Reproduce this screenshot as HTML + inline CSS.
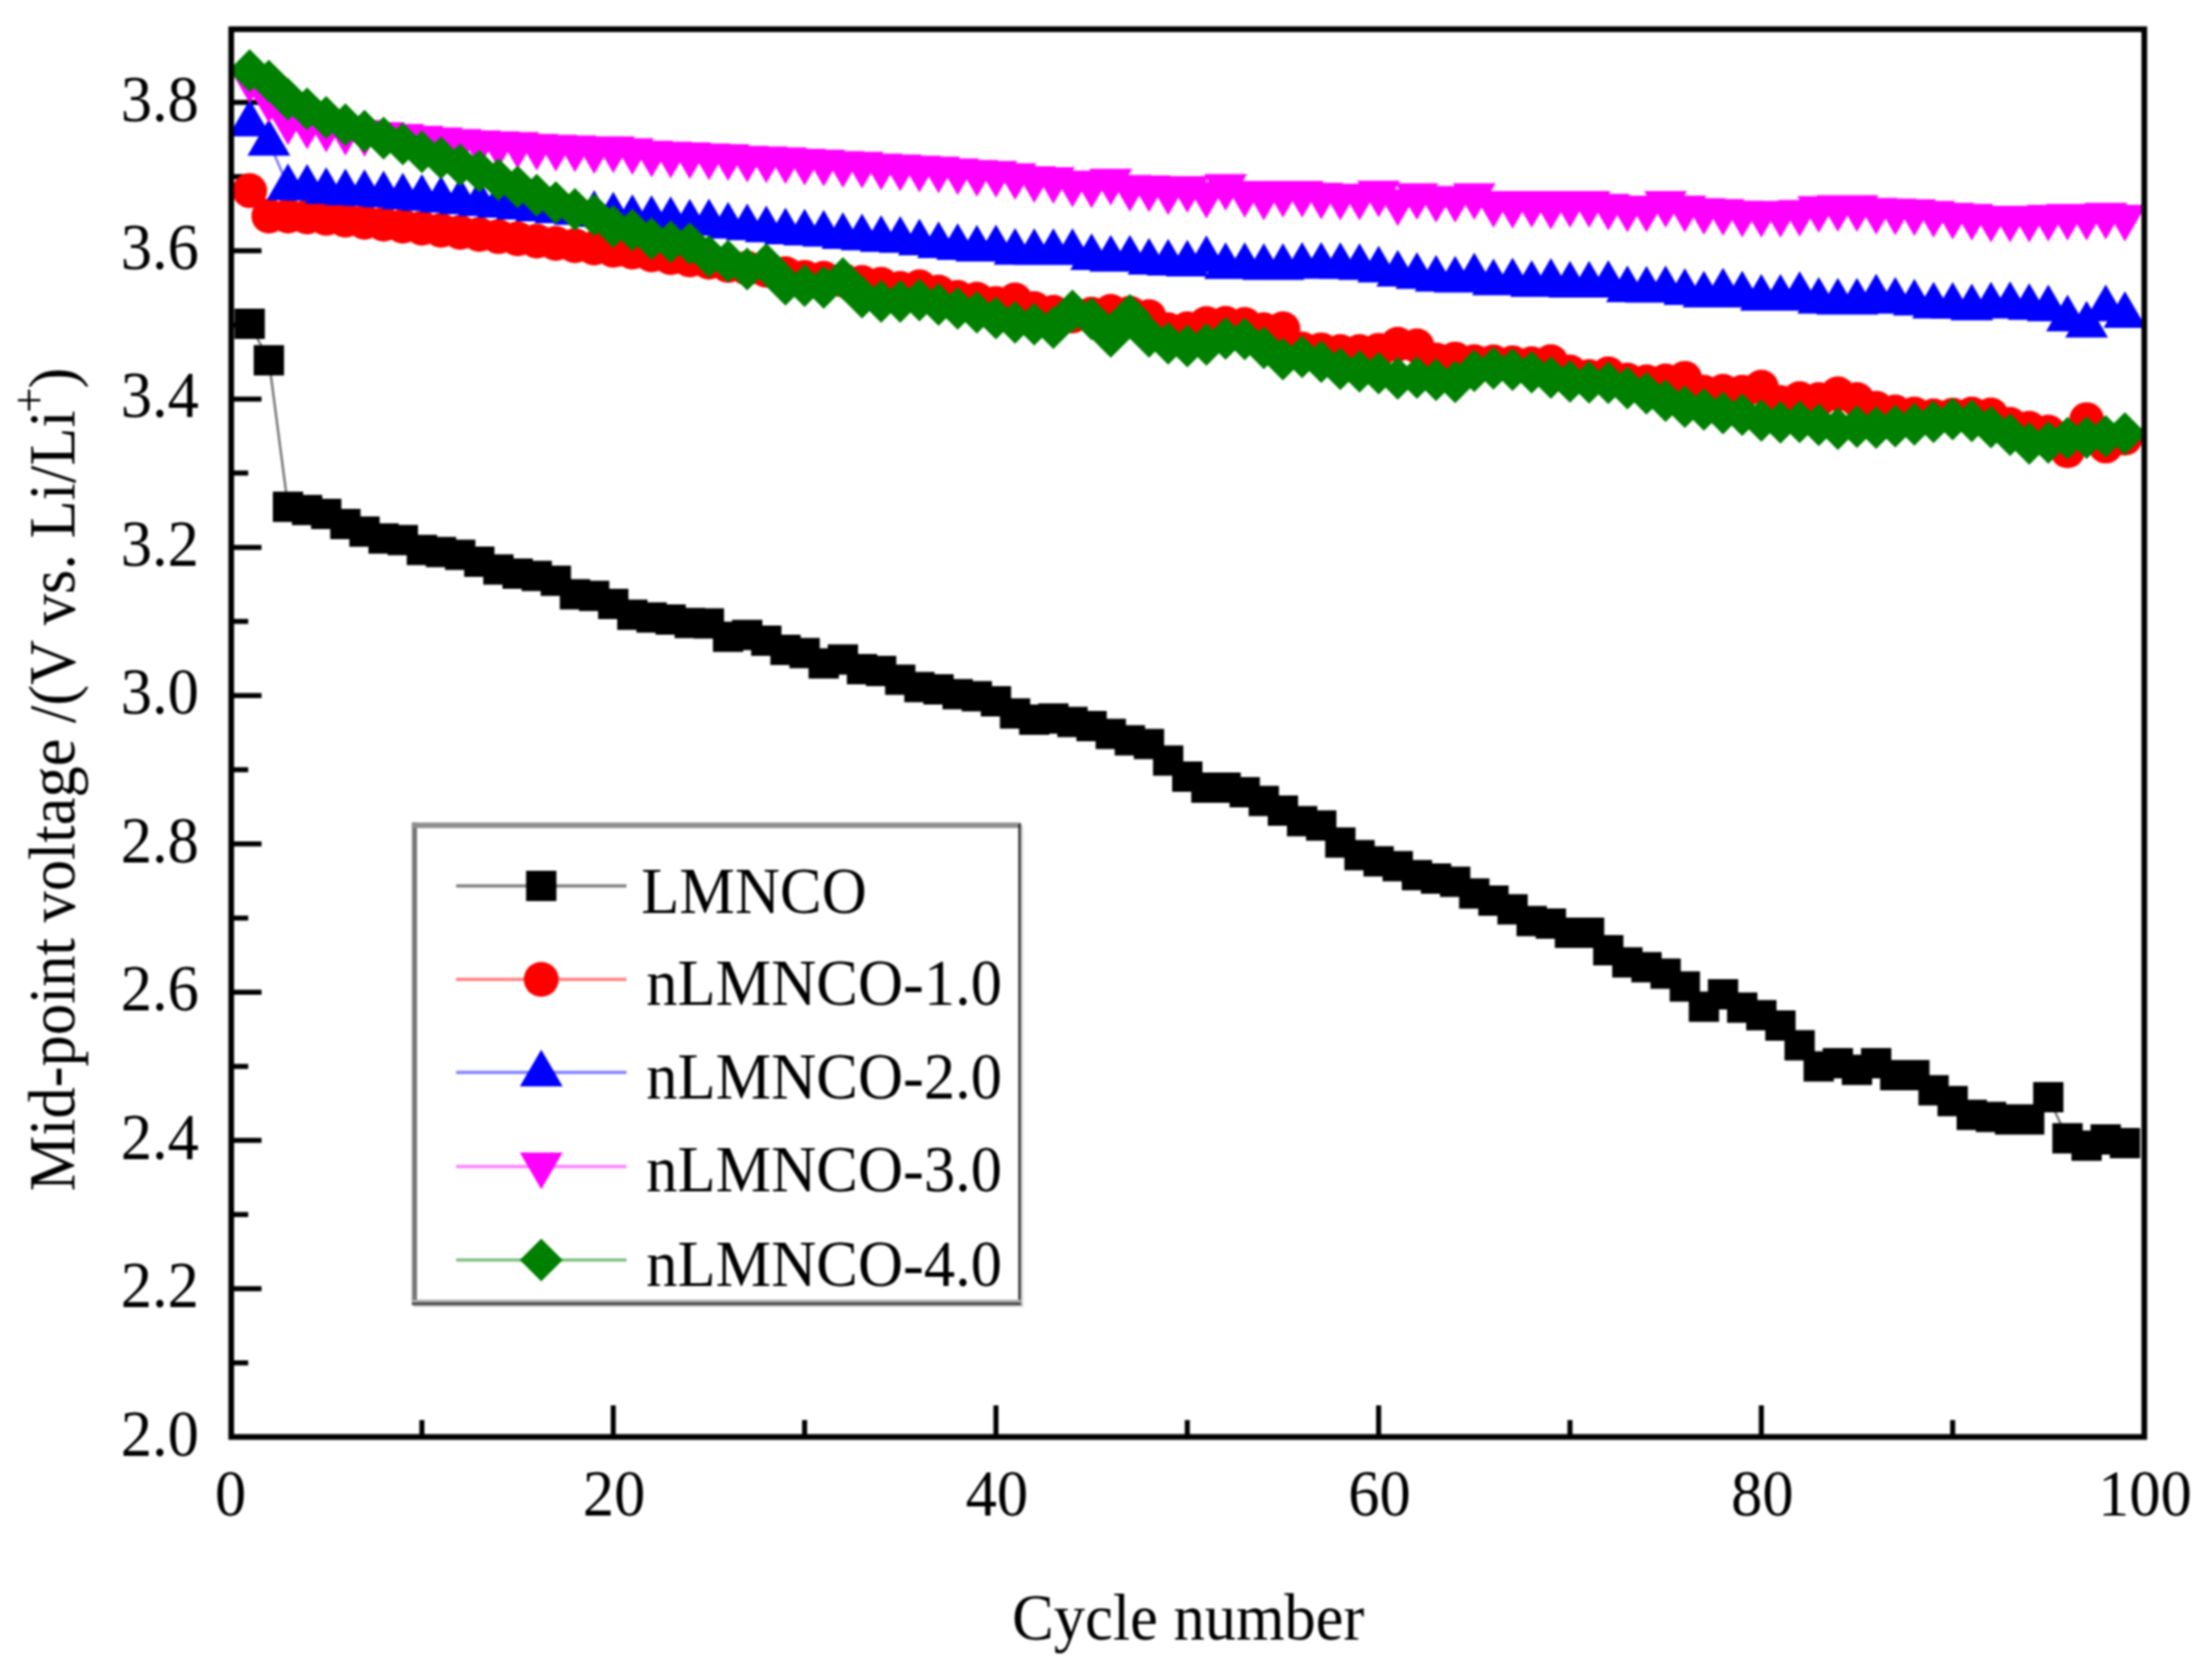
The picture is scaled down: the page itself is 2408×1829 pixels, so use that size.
<!DOCTYPE html>
<html><head><meta charset="utf-8"><title>Mid-point voltage vs cycle number</title>
<style>html,body{margin:0;padding:0;background:#fff}svg{display:block;filter:blur(1px)}</style>
</head><body>
<svg width="2408" height="1829" viewBox="0 0 2408 1829">
<rect width="2408" height="1829" fill="#fff"/>
<path d="M251.7 1483.8h18.5M251.7 1403.1h33M251.7 1322.3h18.5M251.7 1241.6h33M251.7 1160.9h18.5M251.7 1080.2h33M251.7 999.5h18.5M251.7 918.7h33M251.7 838h18.5M251.7 757.3h33M251.7 676.6h18.5M251.7 595.9h33M251.7 515.1h18.5M251.7 434.4h33M251.7 353.7h18.5M251.7 273h33M251.7 192.3h18.5M251.7 111.5h33M459.3 1564.4v-18.5M667.6 1564.4v-34.5M875.9 1564.4v-18.5M1084.2 1564.4v-34.5M1292.5 1564.4v-18.5M1500.8 1564.4v-34.5M1709.1 1564.4v-18.5M1917.4 1564.4v-34.5M2125.7 1564.4v-18.5" stroke="#000" stroke-width="5.5" fill="none"/>
<g>
<polyline points="271.8,352.5 292.7,392.2 313.5,551.7 334.3,555.2 355.1,559.5 376,570.5 396.8,578.7 417.6,586.3 438.5,588.1 459.3,598.7 480.1,601 501,604.1 521.8,611.6 542.6,619.9 563.5,624.6 584.3,626.9 605.1,632.3 625.9,646.9 646.8,648.8 667.6,657.5 688.4,669.2 709.3,672.3 730.1,674.6 750.9,678.2 771.8,678.8 792.6,693.2 813.4,691.2 834.2,697.6 855.1,707.4 875.9,711 896.7,722.3 917.6,718 938.4,728.6 959.2,730.5 980,740.1 1000.9,748.1 1021.7,750.5 1042.5,755.7 1063.4,758 1084.2,763.4 1105,776.8 1125.9,783.4 1146.7,782.2 1167.5,786 1188.3,790.4 1209.2,799.1 1230,806 1250.8,810 1271.7,828.1 1292.5,845.5 1313.3,857.5 1334.2,857.5 1355,862.5 1375.8,871.9 1396.6,882.5 1417.5,894 1438.3,898.7 1459.1,917.2 1480,931 1500.8,937.7 1521.6,943 1542.5,952.8 1563.3,956.5 1584.1,960 1604.9,972.8 1625.8,980.5 1646.6,990 1667.4,1002.8 1688.3,1005.4 1709.1,1015.5 1729.9,1015.5 1750.8,1034.5 1771.6,1047.8 1792.4,1053.1 1813.2,1060 1834.1,1074 1854.9,1096 1875.7,1082.5 1896.6,1096.9 1917.4,1105.3 1938.2,1116.6 1959.1,1137.9 1979.9,1161.1 2000.7,1157.4 2021.5,1164.8 2042.4,1157.6 2063.2,1170.6 2084,1170.6 2104.9,1187 2125.7,1198.7 2146.5,1213.7 2167.4,1216 2188.2,1218.8 2209,1218.8 2229.8,1194.6 2250.7,1239.3 2271.5,1247.2 2292.3,1240.6 2313.2,1244.5" fill="none" stroke="#000000" stroke-width="2.6" stroke-opacity="0.55"/>
<path d="M255.3 336h33v33h-33zM276.2 375.7h33v33h-33zM297 535.2h33v33h-33zM317.8 538.7h33v33h-33zM338.6 543h33v33h-33zM359.5 554h33v33h-33zM380.3 562.2h33v33h-33zM401.1 569.8h33v33h-33zM422 571.6h33v33h-33zM442.8 582.2h33v33h-33zM463.6 584.5h33v33h-33zM484.5 587.6h33v33h-33zM505.3 595.1h33v33h-33zM526.1 603.4h33v33h-33zM547 608.1h33v33h-33zM567.8 610.4h33v33h-33zM588.6 615.8h33v33h-33zM609.4 630.4h33v33h-33zM630.3 632.3h33v33h-33zM651.1 641h33v33h-33zM671.9 652.7h33v33h-33zM692.8 655.8h33v33h-33zM713.6 658.1h33v33h-33zM734.4 661.7h33v33h-33zM755.2 662.3h33v33h-33zM776.1 676.7h33v33h-33zM796.9 674.7h33v33h-33zM817.7 681.1h33v33h-33zM838.6 690.9h33v33h-33zM859.4 694.5h33v33h-33zM880.2 705.8h33v33h-33zM901.1 701.5h33v33h-33zM921.9 712.1h33v33h-33zM942.7 714h33v33h-33zM963.5 723.6h33v33h-33zM984.4 731.6h33v33h-33zM1005.2 734h33v33h-33zM1026 739.2h33v33h-33zM1046.9 741.5h33v33h-33zM1067.7 746.9h33v33h-33zM1088.5 760.3h33v33h-33zM1109.4 766.9h33v33h-33zM1130.2 765.7h33v33h-33zM1151 769.5h33v33h-33zM1171.8 773.9h33v33h-33zM1192.7 782.6h33v33h-33zM1213.5 789.5h33v33h-33zM1234.3 793.5h33v33h-33zM1255.2 811.6h33v33h-33zM1276 829h33v33h-33zM1296.8 841h33v33h-33zM1317.7 841h33v33h-33zM1338.5 846h33v33h-33zM1359.3 855.4h33v33h-33zM1380.1 866h33v33h-33zM1401 877.5h33v33h-33zM1421.8 882.2h33v33h-33zM1442.6 900.7h33v33h-33zM1463.5 914.5h33v33h-33zM1484.3 921.2h33v33h-33zM1505.1 926.5h33v33h-33zM1526 936.3h33v33h-33zM1546.8 940h33v33h-33zM1567.6 943.5h33v33h-33zM1588.4 956.3h33v33h-33zM1609.3 964h33v33h-33zM1630.1 973.5h33v33h-33zM1650.9 986.3h33v33h-33zM1671.8 988.9h33v33h-33zM1692.6 999h33v33h-33zM1713.4 999h33v33h-33zM1734.3 1018h33v33h-33zM1755.1 1031.3h33v33h-33zM1775.9 1036.6h33v33h-33zM1796.7 1043.5h33v33h-33zM1817.6 1057.5h33v33h-33zM1838.4 1079.5h33v33h-33zM1859.2 1066h33v33h-33zM1880.1 1080.4h33v33h-33zM1900.9 1088.8h33v33h-33zM1921.7 1100.1h33v33h-33zM1942.6 1121.4h33v33h-33zM1963.4 1144.6h33v33h-33zM1984.2 1140.9h33v33h-33zM2005 1148.3h33v33h-33zM2025.9 1141.1h33v33h-33zM2046.7 1154.1h33v33h-33zM2067.5 1154.1h33v33h-33zM2088.4 1170.5h33v33h-33zM2109.2 1182.2h33v33h-33zM2130 1197.2h33v33h-33zM2150.9 1199.5h33v33h-33zM2171.7 1202.2h33v33h-33zM2192.5 1202.2h33v33h-33zM2213.3 1178.1h33v33h-33zM2234.2 1222.8h33v33h-33zM2255 1230.7h33v33h-33zM2275.8 1224.1h33v33h-33zM2296.7 1228h33v33h-33z" fill="#000000"/>

<polyline points="271.8,207.6 292.7,235.3 313.5,235.3 334.3,236.2 355.1,237.8 376,239.8 396.8,241.9 417.6,244 438.5,246.2 459.3,248.4 480.1,250.7 501,253 521.8,255.3 542.6,257.6 563.5,260 584.3,262.5 605.1,265 625.9,267.5 646.8,270 667.6,272.5 688.4,274.5 709.3,277.5 730.1,280.5 750.9,283 771.8,285.5 792.6,289 813.4,292 834.2,294.3 855.1,298 875.9,301.9 896.7,303 917.6,305 938.4,307.6 959.2,309.5 980,314 1000.9,312.3 1021.7,318 1042.5,323.8 1063.4,325.7 1084.2,330.4 1105,326.6 1125.9,336.1 1146.7,340 1167.5,343.9 1188.3,342 1209.2,339 1230,341 1250.8,344.7 1271.7,359 1292.5,358 1313.3,352.3 1334.2,352 1355,353.3 1375.8,359 1396.6,358 1417.5,380 1438.3,380.9 1459.1,382.8 1480,382.8 1500.8,381.4 1521.6,374.7 1542.5,376.6 1563.3,391.9 1584.1,390.9 1604.9,393.8 1625.8,394 1646.6,395 1667.4,396 1688.3,393.8 1709.1,405 1729.9,410 1750.8,407.1 1771.6,413.8 1792.4,415.7 1813.2,414.7 1834.1,411.9 1854.9,427.1 1875.7,426.1 1896.6,427.1 1917.4,421.5 1938.2,438.2 1959.1,434 1979.9,435 2000.7,428.8 2021.5,435 2042.4,444.4 2063.2,448.6 2084,450.7 2104.9,452.8 2125.7,452 2146.5,450.7 2167.4,451.7 2188.2,462.1 2209,466.3 2229.8,470.5 2250.7,490.8 2271.5,456.9 2292.3,485.6 2313.2,477" fill="none" stroke="#ff0000" stroke-width="2.6" stroke-opacity="0.55"/>
<path d="M252.8 207.6a19 19 0 1 0 38 0a19 19 0 1 0 -38 0zM273.7 235.3a19 19 0 1 0 38 0a19 19 0 1 0 -38 0zM294.5 235.3a19 19 0 1 0 38 0a19 19 0 1 0 -38 0zM315.3 236.2a19 19 0 1 0 38 0a19 19 0 1 0 -38 0zM336.1 237.8a19 19 0 1 0 38 0a19 19 0 1 0 -38 0zM357 239.8a19 19 0 1 0 38 0a19 19 0 1 0 -38 0zM377.8 241.9a19 19 0 1 0 38 0a19 19 0 1 0 -38 0zM398.6 244a19 19 0 1 0 38 0a19 19 0 1 0 -38 0zM419.5 246.2a19 19 0 1 0 38 0a19 19 0 1 0 -38 0zM440.3 248.4a19 19 0 1 0 38 0a19 19 0 1 0 -38 0zM461.1 250.7a19 19 0 1 0 38 0a19 19 0 1 0 -38 0zM482 253a19 19 0 1 0 38 0a19 19 0 1 0 -38 0zM502.8 255.3a19 19 0 1 0 38 0a19 19 0 1 0 -38 0zM523.6 257.6a19 19 0 1 0 38 0a19 19 0 1 0 -38 0zM544.5 260a19 19 0 1 0 38 0a19 19 0 1 0 -38 0zM565.3 262.5a19 19 0 1 0 38 0a19 19 0 1 0 -38 0zM586.1 265a19 19 0 1 0 38 0a19 19 0 1 0 -38 0zM606.9 267.5a19 19 0 1 0 38 0a19 19 0 1 0 -38 0zM627.8 270a19 19 0 1 0 38 0a19 19 0 1 0 -38 0zM648.6 272.5a19 19 0 1 0 38 0a19 19 0 1 0 -38 0zM669.4 274.5a19 19 0 1 0 38 0a19 19 0 1 0 -38 0zM690.3 277.5a19 19 0 1 0 38 0a19 19 0 1 0 -38 0zM711.1 280.5a19 19 0 1 0 38 0a19 19 0 1 0 -38 0zM731.9 283a19 19 0 1 0 38 0a19 19 0 1 0 -38 0zM752.8 285.5a19 19 0 1 0 38 0a19 19 0 1 0 -38 0zM773.6 289a19 19 0 1 0 38 0a19 19 0 1 0 -38 0zM794.4 292a19 19 0 1 0 38 0a19 19 0 1 0 -38 0zM815.2 294.3a19 19 0 1 0 38 0a19 19 0 1 0 -38 0zM836.1 298a19 19 0 1 0 38 0a19 19 0 1 0 -38 0zM856.9 301.9a19 19 0 1 0 38 0a19 19 0 1 0 -38 0zM877.7 303a19 19 0 1 0 38 0a19 19 0 1 0 -38 0zM898.6 305a19 19 0 1 0 38 0a19 19 0 1 0 -38 0zM919.4 307.6a19 19 0 1 0 38 0a19 19 0 1 0 -38 0zM940.2 309.5a19 19 0 1 0 38 0a19 19 0 1 0 -38 0zM961 314a19 19 0 1 0 38 0a19 19 0 1 0 -38 0zM981.9 312.3a19 19 0 1 0 38 0a19 19 0 1 0 -38 0zM1002.7 318a19 19 0 1 0 38 0a19 19 0 1 0 -38 0zM1023.5 323.8a19 19 0 1 0 38 0a19 19 0 1 0 -38 0zM1044.4 325.7a19 19 0 1 0 38 0a19 19 0 1 0 -38 0zM1065.2 330.4a19 19 0 1 0 38 0a19 19 0 1 0 -38 0zM1086 326.6a19 19 0 1 0 38 0a19 19 0 1 0 -38 0zM1106.9 336.1a19 19 0 1 0 38 0a19 19 0 1 0 -38 0zM1127.7 340a19 19 0 1 0 38 0a19 19 0 1 0 -38 0zM1148.5 343.9a19 19 0 1 0 38 0a19 19 0 1 0 -38 0zM1169.3 342a19 19 0 1 0 38 0a19 19 0 1 0 -38 0zM1190.2 339a19 19 0 1 0 38 0a19 19 0 1 0 -38 0zM1211 341a19 19 0 1 0 38 0a19 19 0 1 0 -38 0zM1231.8 344.7a19 19 0 1 0 38 0a19 19 0 1 0 -38 0zM1252.7 359a19 19 0 1 0 38 0a19 19 0 1 0 -38 0zM1273.5 358a19 19 0 1 0 38 0a19 19 0 1 0 -38 0zM1294.3 352.3a19 19 0 1 0 38 0a19 19 0 1 0 -38 0zM1315.2 352a19 19 0 1 0 38 0a19 19 0 1 0 -38 0zM1336 353.3a19 19 0 1 0 38 0a19 19 0 1 0 -38 0zM1356.8 359a19 19 0 1 0 38 0a19 19 0 1 0 -38 0zM1377.6 358a19 19 0 1 0 38 0a19 19 0 1 0 -38 0zM1398.5 380a19 19 0 1 0 38 0a19 19 0 1 0 -38 0zM1419.3 380.9a19 19 0 1 0 38 0a19 19 0 1 0 -38 0zM1440.1 382.8a19 19 0 1 0 38 0a19 19 0 1 0 -38 0zM1461 382.8a19 19 0 1 0 38 0a19 19 0 1 0 -38 0zM1481.8 381.4a19 19 0 1 0 38 0a19 19 0 1 0 -38 0zM1502.6 374.7a19 19 0 1 0 38 0a19 19 0 1 0 -38 0zM1523.5 376.6a19 19 0 1 0 38 0a19 19 0 1 0 -38 0zM1544.3 391.9a19 19 0 1 0 38 0a19 19 0 1 0 -38 0zM1565.1 390.9a19 19 0 1 0 38 0a19 19 0 1 0 -38 0zM1585.9 393.8a19 19 0 1 0 38 0a19 19 0 1 0 -38 0zM1606.8 394a19 19 0 1 0 38 0a19 19 0 1 0 -38 0zM1627.6 395a19 19 0 1 0 38 0a19 19 0 1 0 -38 0zM1648.4 396a19 19 0 1 0 38 0a19 19 0 1 0 -38 0zM1669.3 393.8a19 19 0 1 0 38 0a19 19 0 1 0 -38 0zM1690.1 405a19 19 0 1 0 38 0a19 19 0 1 0 -38 0zM1710.9 410a19 19 0 1 0 38 0a19 19 0 1 0 -38 0zM1731.8 407.1a19 19 0 1 0 38 0a19 19 0 1 0 -38 0zM1752.6 413.8a19 19 0 1 0 38 0a19 19 0 1 0 -38 0zM1773.4 415.7a19 19 0 1 0 38 0a19 19 0 1 0 -38 0zM1794.2 414.7a19 19 0 1 0 38 0a19 19 0 1 0 -38 0zM1815.1 411.9a19 19 0 1 0 38 0a19 19 0 1 0 -38 0zM1835.9 427.1a19 19 0 1 0 38 0a19 19 0 1 0 -38 0zM1856.7 426.1a19 19 0 1 0 38 0a19 19 0 1 0 -38 0zM1877.6 427.1a19 19 0 1 0 38 0a19 19 0 1 0 -38 0zM1898.4 421.5a19 19 0 1 0 38 0a19 19 0 1 0 -38 0zM1919.2 438.2a19 19 0 1 0 38 0a19 19 0 1 0 -38 0zM1940.1 434a19 19 0 1 0 38 0a19 19 0 1 0 -38 0zM1960.9 435a19 19 0 1 0 38 0a19 19 0 1 0 -38 0zM1981.7 428.8a19 19 0 1 0 38 0a19 19 0 1 0 -38 0zM2002.5 435a19 19 0 1 0 38 0a19 19 0 1 0 -38 0zM2023.4 444.4a19 19 0 1 0 38 0a19 19 0 1 0 -38 0zM2044.2 448.6a19 19 0 1 0 38 0a19 19 0 1 0 -38 0zM2065 450.7a19 19 0 1 0 38 0a19 19 0 1 0 -38 0zM2085.9 452.8a19 19 0 1 0 38 0a19 19 0 1 0 -38 0zM2106.7 452a19 19 0 1 0 38 0a19 19 0 1 0 -38 0zM2127.5 450.7a19 19 0 1 0 38 0a19 19 0 1 0 -38 0zM2148.4 451.7a19 19 0 1 0 38 0a19 19 0 1 0 -38 0zM2169.2 462.1a19 19 0 1 0 38 0a19 19 0 1 0 -38 0zM2190 466.3a19 19 0 1 0 38 0a19 19 0 1 0 -38 0zM2210.8 470.5a19 19 0 1 0 38 0a19 19 0 1 0 -38 0zM2231.7 490.8a19 19 0 1 0 38 0a19 19 0 1 0 -38 0zM2252.5 456.9a19 19 0 1 0 38 0a19 19 0 1 0 -38 0zM2273.3 485.6a19 19 0 1 0 38 0a19 19 0 1 0 -38 0zM2294.2 477a19 19 0 1 0 38 0a19 19 0 1 0 -38 0z" fill="#ff0000"/>

<polyline points="271.8,133.3 292.7,154.2 313.5,202.7 334.3,203.1 355.1,206.8 376,208.3 396.8,209 417.6,210.4 438.5,212.6 459.3,214.2 480.1,216.1 501,218 521.8,219.9 542.6,221.8 563.5,223.7 584.3,225.7 605.1,227.6 625.9,229.5 646.8,231.6 667.6,233.5 688.4,236.2 709.3,237.1 730.1,238.4 750.9,241.2 771.8,240.9 792.6,244.5 813.4,246.2 834.2,248.5 855.1,250.8 875.9,251.9 896.7,253.3 917.6,255.7 938.4,257.1 959.2,259 980,259.9 1000.9,262.8 1021.7,265.7 1042.5,267.6 1063.4,269.5 1084.2,269.1 1105,272.9 1125.9,273.3 1146.7,273.3 1167.5,273.3 1188.3,278.6 1209.2,280.5 1230,280.5 1250.8,283.7 1271.7,284.7 1292.5,285.7 1313.3,280.9 1334.2,288.5 1355,288.5 1375.8,289.5 1396.6,289.5 1417.5,288.1 1438.3,288.1 1459.1,288.5 1480,289.5 1500.8,292.2 1521.6,296.6 1542.5,299.1 1563.3,302.3 1584.1,303.3 1604.9,299.8 1625.8,306.1 1646.6,305.2 1667.4,308 1688.3,305.6 1709.1,308.6 1729.9,308.6 1750.8,308 1771.6,313.7 1792.4,314.3 1813.2,313.7 1834.1,316.6 1854.9,319.5 1875.7,316.2 1896.6,319.5 1917.4,323 1938.2,323 1959.1,319.9 1979.9,326.2 2000.7,327.2 2021.5,327.2 2042.4,322.6 2063.2,326.2 2084,328.2 2104.9,331.4 2125.7,331.8 2146.5,333.4 2167.4,331.4 2188.2,330.9 2209,333 2229.8,334.5 2250.7,345.5 2271.5,352.2 2292.3,334.5 2313.2,341.8" fill="none" stroke="#0000ff" stroke-width="2.6" stroke-opacity="0.55"/>
<path d="M271.8 108.6l23.3 40h-46.6zM292.7 129.5l23.3 40h-46.6zM313.5 178l23.3 40h-46.6zM334.3 178.4l23.3 40h-46.6zM355.1 182.1l23.3 40h-46.6zM376 183.6l23.3 40h-46.6zM396.8 184.3l23.3 40h-46.6zM417.6 185.7l23.3 40h-46.6zM438.5 187.9l23.3 40h-46.6zM459.3 189.5l23.3 40h-46.6zM480.1 191.4l23.3 40h-46.6zM501 193.3l23.3 40h-46.6zM521.8 195.2l23.3 40h-46.6zM542.6 197.1l23.3 40h-46.6zM563.5 199l23.3 40h-46.6zM584.3 201l23.3 40h-46.6zM605.1 202.9l23.3 40h-46.6zM625.9 204.8l23.3 40h-46.6zM646.8 206.9l23.3 40h-46.6zM667.6 208.8l23.3 40h-46.6zM688.4 211.5l23.3 40h-46.6zM709.3 212.4l23.3 40h-46.6zM730.1 213.7l23.3 40h-46.6zM750.9 216.5l23.3 40h-46.6zM771.8 216.2l23.3 40h-46.6zM792.6 219.8l23.3 40h-46.6zM813.4 221.5l23.3 40h-46.6zM834.2 223.8l23.3 40h-46.6zM855.1 226.1l23.3 40h-46.6zM875.9 227.2l23.3 40h-46.6zM896.7 228.6l23.3 40h-46.6zM917.6 231l23.3 40h-46.6zM938.4 232.4l23.3 40h-46.6zM959.2 234.3l23.3 40h-46.6zM980 235.2l23.3 40h-46.6zM1000.9 238.1l23.3 40h-46.6zM1021.7 241l23.3 40h-46.6zM1042.5 242.9l23.3 40h-46.6zM1063.4 244.8l23.3 40h-46.6zM1084.2 244.4l23.3 40h-46.6zM1105 248.2l23.3 40h-46.6zM1125.9 248.6l23.3 40h-46.6zM1146.7 248.6l23.3 40h-46.6zM1167.5 248.6l23.3 40h-46.6zM1188.3 253.9l23.3 40h-46.6zM1209.2 255.8l23.3 40h-46.6zM1230 255.8l23.3 40h-46.6zM1250.8 259l23.3 40h-46.6zM1271.7 260l23.3 40h-46.6zM1292.5 261l23.3 40h-46.6zM1313.3 256.2l23.3 40h-46.6zM1334.2 263.8l23.3 40h-46.6zM1355 263.8l23.3 40h-46.6zM1375.8 264.8l23.3 40h-46.6zM1396.6 264.8l23.3 40h-46.6zM1417.5 263.4l23.3 40h-46.6zM1438.3 263.4l23.3 40h-46.6zM1459.1 263.8l23.3 40h-46.6zM1480 264.8l23.3 40h-46.6zM1500.8 267.5l23.3 40h-46.6zM1521.6 271.9l23.3 40h-46.6zM1542.5 274.4l23.3 40h-46.6zM1563.3 277.6l23.3 40h-46.6zM1584.1 278.6l23.3 40h-46.6zM1604.9 275.1l23.3 40h-46.6zM1625.8 281.4l23.3 40h-46.6zM1646.6 280.5l23.3 40h-46.6zM1667.4 283.3l23.3 40h-46.6zM1688.3 280.9l23.3 40h-46.6zM1709.1 283.9l23.3 40h-46.6zM1729.9 283.9l23.3 40h-46.6zM1750.8 283.3l23.3 40h-46.6zM1771.6 289l23.3 40h-46.6zM1792.4 289.6l23.3 40h-46.6zM1813.2 289l23.3 40h-46.6zM1834.1 291.9l23.3 40h-46.6zM1854.9 294.8l23.3 40h-46.6zM1875.7 291.5l23.3 40h-46.6zM1896.6 294.8l23.3 40h-46.6zM1917.4 298.3l23.3 40h-46.6zM1938.2 298.3l23.3 40h-46.6zM1959.1 295.2l23.3 40h-46.6zM1979.9 301.5l23.3 40h-46.6zM2000.7 302.5l23.3 40h-46.6zM2021.5 302.5l23.3 40h-46.6zM2042.4 297.9l23.3 40h-46.6zM2063.2 301.5l23.3 40h-46.6zM2084 303.5l23.3 40h-46.6zM2104.9 306.7l23.3 40h-46.6zM2125.7 307.1l23.3 40h-46.6zM2146.5 308.8l23.3 40h-46.6zM2167.4 306.7l23.3 40h-46.6zM2188.2 306.2l23.3 40h-46.6zM2209 308.3l23.3 40h-46.6zM2229.8 309.8l23.3 40h-46.6zM2250.7 320.8l23.3 40h-46.6zM2271.5 327.5l23.3 40h-46.6zM2292.3 309.8l23.3 40h-46.6zM2313.2 317.1l23.3 40h-46.6z" fill="#0000ff"/>

<polyline points="271.8,87.7 292.7,109.3 313.5,133.3 334.3,137.8 355.1,141.3 376,144.7 396.8,146.1 417.6,148.3 438.5,150.3 459.3,152.3 480.1,154.1 501,155.7 521.8,157.3 542.6,158.3 563.5,159.1 584.3,161 605.1,162 625.9,162.9 646.8,164.8 667.6,163.9 688.4,165.8 709.3,168.6 730.1,169.6 750.9,170.2 771.8,171.5 792.6,172.4 813.4,174 834.2,174.7 855.1,175.9 875.9,177.2 896.7,178.2 917.6,179.7 938.4,180.6 959.2,182.5 980,183.5 1000.9,184.8 1021.7,185.8 1042.5,187.7 1063.4,189.6 1084.2,190.5 1105,193 1125.9,196.3 1146.7,197.2 1167.5,201 1188.3,202 1209.2,199.1 1230,205.8 1250.8,206.3 1271.7,209.6 1292.5,207.1 1313.3,213.4 1334.2,204.8 1355,212.4 1375.8,215.3 1396.6,212.4 1417.5,212.4 1438.3,214.3 1459.1,215.3 1480,215.3 1500.8,212 1521.6,221.5 1542.5,214.8 1563.3,217.7 1584.1,217.7 1604.9,214.8 1625.8,223.4 1646.6,224.3 1667.4,223.4 1688.3,225.3 1709.1,223.4 1729.9,223.4 1750.8,226.3 1771.6,228.2 1792.4,228.2 1813.2,223.4 1834.1,228.2 1854.9,231 1875.7,232 1896.6,233.9 1917.4,234.1 1938.2,234.1 1959.1,233 1979.9,228.8 2000.7,227.8 2021.5,227.8 2042.4,230.9 2063.2,231.6 2084,232.4 2104.9,234.1 2125.7,236.1 2146.5,237.2 2167.4,239.3 2188.2,239.3 2209,239.3 2229.8,238.2 2250.7,237.2 2271.5,237.2 2292.3,236.1 2313.2,238.2" fill="none" stroke="#ff00ff" stroke-width="2.6" stroke-opacity="0.55"/>
<path d="M271.8 112.4l23.3 -40h-46.6zM292.7 134l23.3 -40h-46.6zM313.5 158l23.3 -40h-46.6zM334.3 162.5l23.3 -40h-46.6zM355.1 166l23.3 -40h-46.6zM376 169.4l23.3 -40h-46.6zM396.8 170.8l23.3 -40h-46.6zM417.6 173l23.3 -40h-46.6zM438.5 175l23.3 -40h-46.6zM459.3 177l23.3 -40h-46.6zM480.1 178.8l23.3 -40h-46.6zM501 180.4l23.3 -40h-46.6zM521.8 182l23.3 -40h-46.6zM542.6 183l23.3 -40h-46.6zM563.5 183.8l23.3 -40h-46.6zM584.3 185.7l23.3 -40h-46.6zM605.1 186.7l23.3 -40h-46.6zM625.9 187.6l23.3 -40h-46.6zM646.8 189.5l23.3 -40h-46.6zM667.6 188.6l23.3 -40h-46.6zM688.4 190.5l23.3 -40h-46.6zM709.3 193.3l23.3 -40h-46.6zM730.1 194.3l23.3 -40h-46.6zM750.9 194.9l23.3 -40h-46.6zM771.8 196.2l23.3 -40h-46.6zM792.6 197.1l23.3 -40h-46.6zM813.4 198.7l23.3 -40h-46.6zM834.2 199.4l23.3 -40h-46.6zM855.1 200.6l23.3 -40h-46.6zM875.9 201.9l23.3 -40h-46.6zM896.7 202.9l23.3 -40h-46.6zM917.6 204.4l23.3 -40h-46.6zM938.4 205.3l23.3 -40h-46.6zM959.2 207.2l23.3 -40h-46.6zM980 208.2l23.3 -40h-46.6zM1000.9 209.5l23.3 -40h-46.6zM1021.7 210.5l23.3 -40h-46.6zM1042.5 212.4l23.3 -40h-46.6zM1063.4 214.3l23.3 -40h-46.6zM1084.2 215.2l23.3 -40h-46.6zM1105 217.7l23.3 -40h-46.6zM1125.9 221l23.3 -40h-46.6zM1146.7 221.9l23.3 -40h-46.6zM1167.5 225.7l23.3 -40h-46.6zM1188.3 226.7l23.3 -40h-46.6zM1209.2 223.8l23.3 -40h-46.6zM1230 230.5l23.3 -40h-46.6zM1250.8 231l23.3 -40h-46.6zM1271.7 234.3l23.3 -40h-46.6zM1292.5 231.8l23.3 -40h-46.6zM1313.3 238.1l23.3 -40h-46.6zM1334.2 229.5l23.3 -40h-46.6zM1355 237.1l23.3 -40h-46.6zM1375.8 240l23.3 -40h-46.6zM1396.6 237.1l23.3 -40h-46.6zM1417.5 237.1l23.3 -40h-46.6zM1438.3 239l23.3 -40h-46.6zM1459.1 240l23.3 -40h-46.6zM1480 240l23.3 -40h-46.6zM1500.8 236.7l23.3 -40h-46.6zM1521.6 246.2l23.3 -40h-46.6zM1542.5 239.5l23.3 -40h-46.6zM1563.3 242.4l23.3 -40h-46.6zM1584.1 242.4l23.3 -40h-46.6zM1604.9 239.5l23.3 -40h-46.6zM1625.8 248.1l23.3 -40h-46.6zM1646.6 249l23.3 -40h-46.6zM1667.4 248.1l23.3 -40h-46.6zM1688.3 250l23.3 -40h-46.6zM1709.1 248.1l23.3 -40h-46.6zM1729.9 248.1l23.3 -40h-46.6zM1750.8 251l23.3 -40h-46.6zM1771.6 252.9l23.3 -40h-46.6zM1792.4 252.9l23.3 -40h-46.6zM1813.2 248.1l23.3 -40h-46.6zM1834.1 252.9l23.3 -40h-46.6zM1854.9 255.7l23.3 -40h-46.6zM1875.7 256.7l23.3 -40h-46.6zM1896.6 258.6l23.3 -40h-46.6zM1917.4 258.8l23.3 -40h-46.6zM1938.2 258.8l23.3 -40h-46.6zM1959.1 257.7l23.3 -40h-46.6zM1979.9 253.5l23.3 -40h-46.6zM2000.7 252.5l23.3 -40h-46.6zM2021.5 252.5l23.3 -40h-46.6zM2042.4 255.6l23.3 -40h-46.6zM2063.2 256.2l23.3 -40h-46.6zM2084 257.1l23.3 -40h-46.6zM2104.9 258.8l23.3 -40h-46.6zM2125.7 260.8l23.3 -40h-46.6zM2146.5 261.9l23.3 -40h-46.6zM2167.4 264l23.3 -40h-46.6zM2188.2 264l23.3 -40h-46.6zM2209 264l23.3 -40h-46.6zM2229.8 262.9l23.3 -40h-46.6zM2250.7 261.9l23.3 -40h-46.6zM2271.5 261.9l23.3 -40h-46.6zM2292.3 260.8l23.3 -40h-46.6zM2313.2 262.9l23.3 -40h-46.6z" fill="#ff00ff"/>

<polyline points="271.8,76.9 292.7,88.3 313.5,108 334.3,118.5 355.1,127.9 376,135.7 396.8,142.9 417.6,150.4 438.5,156.7 459.3,165.2 480.1,171.9 501,179.5 521.8,186.2 542.6,195.5 563.5,203.5 584.3,212.6 605.1,220.5 625.9,228 646.8,234 667.6,246.6 688.4,250.5 709.3,260 730.1,263.2 750.9,265.2 771.8,279 792.6,284.4 813.4,292.9 834.2,288.1 855.1,309.5 875.9,311 896.7,312.9 917.6,303.3 938.4,323.4 959.2,328.1 980,328.1 1000.9,326.6 1021.7,331.4 1042.5,335.7 1063.4,340 1084.2,346.2 1105,351 1125.9,352.9 1146.7,356.7 1167.5,338.5 1188.3,347.1 1209.2,366.2 1230,343.3 1250.8,366.2 1271.7,373.8 1292.5,376.7 1313.3,375 1334.2,368.5 1355,369 1375.8,378.6 1396.6,391 1417.5,388.5 1438.3,393.8 1459.1,401.5 1480,404.3 1500.8,406.2 1521.6,411.9 1542.5,411 1563.3,413.4 1584.1,415.7 1604.9,403.8 1625.8,401 1646.6,402.4 1667.4,405.3 1688.3,411 1709.1,415.3 1729.9,416.2 1750.8,416.7 1771.6,422.4 1792.4,428.1 1813.2,436.2 1834.1,442.8 1854.9,445.7 1875.7,449.6 1896.6,451.5 1917.4,457.7 1938.2,459.8 1959.1,459.3 1979.9,462.4 2000.7,466.6 2021.5,464.5 2042.4,465.5 2063.2,464 2084,461.9 2104.9,459.3 2125.7,456.2 2146.5,458.2 2167.4,465 2188.2,473.3 2209,482.7 2229.8,481.7 2250.7,477.1 2271.5,476.5 2292.3,475 2313.2,472" fill="none" stroke="#008000" stroke-width="2.6" stroke-opacity="0.55"/>
<path d="M271.8 53.6l23.3 23.3l-23.3 23.3l-23.3 -23.3zM292.7 65l23.3 23.3l-23.3 23.3l-23.3 -23.3zM313.5 84.7l23.3 23.3l-23.3 23.3l-23.3 -23.3zM334.3 95.2l23.3 23.3l-23.3 23.3l-23.3 -23.3zM355.1 104.6l23.3 23.3l-23.3 23.3l-23.3 -23.3zM376 112.4l23.3 23.3l-23.3 23.3l-23.3 -23.3zM396.8 119.6l23.3 23.3l-23.3 23.3l-23.3 -23.3zM417.6 127.1l23.3 23.3l-23.3 23.3l-23.3 -23.3zM438.5 133.4l23.3 23.3l-23.3 23.3l-23.3 -23.3zM459.3 141.9l23.3 23.3l-23.3 23.3l-23.3 -23.3zM480.1 148.6l23.3 23.3l-23.3 23.3l-23.3 -23.3zM501 156.2l23.3 23.3l-23.3 23.3l-23.3 -23.3zM521.8 162.9l23.3 23.3l-23.3 23.3l-23.3 -23.3zM542.6 172.2l23.3 23.3l-23.3 23.3l-23.3 -23.3zM563.5 180.2l23.3 23.3l-23.3 23.3l-23.3 -23.3zM584.3 189.3l23.3 23.3l-23.3 23.3l-23.3 -23.3zM605.1 197.2l23.3 23.3l-23.3 23.3l-23.3 -23.3zM625.9 204.7l23.3 23.3l-23.3 23.3l-23.3 -23.3zM646.8 210.7l23.3 23.3l-23.3 23.3l-23.3 -23.3zM667.6 223.3l23.3 23.3l-23.3 23.3l-23.3 -23.3zM688.4 227.2l23.3 23.3l-23.3 23.3l-23.3 -23.3zM709.3 236.7l23.3 23.3l-23.3 23.3l-23.3 -23.3zM730.1 239.9l23.3 23.3l-23.3 23.3l-23.3 -23.3zM750.9 241.9l23.3 23.3l-23.3 23.3l-23.3 -23.3zM771.8 255.7l23.3 23.3l-23.3 23.3l-23.3 -23.3zM792.6 261.1l23.3 23.3l-23.3 23.3l-23.3 -23.3zM813.4 269.6l23.3 23.3l-23.3 23.3l-23.3 -23.3zM834.2 264.8l23.3 23.3l-23.3 23.3l-23.3 -23.3zM855.1 286.2l23.3 23.3l-23.3 23.3l-23.3 -23.3zM875.9 287.7l23.3 23.3l-23.3 23.3l-23.3 -23.3zM896.7 289.6l23.3 23.3l-23.3 23.3l-23.3 -23.3zM917.6 280l23.3 23.3l-23.3 23.3l-23.3 -23.3zM938.4 300.1l23.3 23.3l-23.3 23.3l-23.3 -23.3zM959.2 304.8l23.3 23.3l-23.3 23.3l-23.3 -23.3zM980 304.8l23.3 23.3l-23.3 23.3l-23.3 -23.3zM1000.9 303.3l23.3 23.3l-23.3 23.3l-23.3 -23.3zM1021.7 308.1l23.3 23.3l-23.3 23.3l-23.3 -23.3zM1042.5 312.4l23.3 23.3l-23.3 23.3l-23.3 -23.3zM1063.4 316.7l23.3 23.3l-23.3 23.3l-23.3 -23.3zM1084.2 322.9l23.3 23.3l-23.3 23.3l-23.3 -23.3zM1105 327.7l23.3 23.3l-23.3 23.3l-23.3 -23.3zM1125.9 329.6l23.3 23.3l-23.3 23.3l-23.3 -23.3zM1146.7 333.4l23.3 23.3l-23.3 23.3l-23.3 -23.3zM1167.5 315.2l23.3 23.3l-23.3 23.3l-23.3 -23.3zM1188.3 323.8l23.3 23.3l-23.3 23.3l-23.3 -23.3zM1209.2 342.9l23.3 23.3l-23.3 23.3l-23.3 -23.3zM1230 320l23.3 23.3l-23.3 23.3l-23.3 -23.3zM1250.8 342.9l23.3 23.3l-23.3 23.3l-23.3 -23.3zM1271.7 350.5l23.3 23.3l-23.3 23.3l-23.3 -23.3zM1292.5 353.4l23.3 23.3l-23.3 23.3l-23.3 -23.3zM1313.3 351.7l23.3 23.3l-23.3 23.3l-23.3 -23.3zM1334.2 345.2l23.3 23.3l-23.3 23.3l-23.3 -23.3zM1355 345.7l23.3 23.3l-23.3 23.3l-23.3 -23.3zM1375.8 355.3l23.3 23.3l-23.3 23.3l-23.3 -23.3zM1396.6 367.7l23.3 23.3l-23.3 23.3l-23.3 -23.3zM1417.5 365.2l23.3 23.3l-23.3 23.3l-23.3 -23.3zM1438.3 370.5l23.3 23.3l-23.3 23.3l-23.3 -23.3zM1459.1 378.2l23.3 23.3l-23.3 23.3l-23.3 -23.3zM1480 381l23.3 23.3l-23.3 23.3l-23.3 -23.3zM1500.8 382.9l23.3 23.3l-23.3 23.3l-23.3 -23.3zM1521.6 388.6l23.3 23.3l-23.3 23.3l-23.3 -23.3zM1542.5 387.7l23.3 23.3l-23.3 23.3l-23.3 -23.3zM1563.3 390.1l23.3 23.3l-23.3 23.3l-23.3 -23.3zM1584.1 392.4l23.3 23.3l-23.3 23.3l-23.3 -23.3zM1604.9 380.5l23.3 23.3l-23.3 23.3l-23.3 -23.3zM1625.8 377.7l23.3 23.3l-23.3 23.3l-23.3 -23.3zM1646.6 379.1l23.3 23.3l-23.3 23.3l-23.3 -23.3zM1667.4 382l23.3 23.3l-23.3 23.3l-23.3 -23.3zM1688.3 387.7l23.3 23.3l-23.3 23.3l-23.3 -23.3zM1709.1 392l23.3 23.3l-23.3 23.3l-23.3 -23.3zM1729.9 392.9l23.3 23.3l-23.3 23.3l-23.3 -23.3zM1750.8 393.4l23.3 23.3l-23.3 23.3l-23.3 -23.3zM1771.6 399.1l23.3 23.3l-23.3 23.3l-23.3 -23.3zM1792.4 404.8l23.3 23.3l-23.3 23.3l-23.3 -23.3zM1813.2 412.9l23.3 23.3l-23.3 23.3l-23.3 -23.3zM1834.1 419.5l23.3 23.3l-23.3 23.3l-23.3 -23.3zM1854.9 422.4l23.3 23.3l-23.3 23.3l-23.3 -23.3zM1875.7 426.3l23.3 23.3l-23.3 23.3l-23.3 -23.3zM1896.6 428.2l23.3 23.3l-23.3 23.3l-23.3 -23.3zM1917.4 434.4l23.3 23.3l-23.3 23.3l-23.3 -23.3zM1938.2 436.5l23.3 23.3l-23.3 23.3l-23.3 -23.3zM1959.1 436l23.3 23.3l-23.3 23.3l-23.3 -23.3zM1979.9 439.1l23.3 23.3l-23.3 23.3l-23.3 -23.3zM2000.7 443.3l23.3 23.3l-23.3 23.3l-23.3 -23.3zM2021.5 441.2l23.3 23.3l-23.3 23.3l-23.3 -23.3zM2042.4 442.2l23.3 23.3l-23.3 23.3l-23.3 -23.3zM2063.2 440.7l23.3 23.3l-23.3 23.3l-23.3 -23.3zM2084 438.6l23.3 23.3l-23.3 23.3l-23.3 -23.3zM2104.9 436l23.3 23.3l-23.3 23.3l-23.3 -23.3zM2125.7 432.9l23.3 23.3l-23.3 23.3l-23.3 -23.3zM2146.5 434.9l23.3 23.3l-23.3 23.3l-23.3 -23.3zM2167.4 441.7l23.3 23.3l-23.3 23.3l-23.3 -23.3zM2188.2 450l23.3 23.3l-23.3 23.3l-23.3 -23.3zM2209 459.4l23.3 23.3l-23.3 23.3l-23.3 -23.3zM2229.8 458.4l23.3 23.3l-23.3 23.3l-23.3 -23.3zM2250.7 453.8l23.3 23.3l-23.3 23.3l-23.3 -23.3zM2271.5 453.2l23.3 23.3l-23.3 23.3l-23.3 -23.3zM2292.3 451.7l23.3 23.3l-23.3 23.3l-23.3 -23.3zM2313.2 448.7l23.3 23.3l-23.3 23.3l-23.3 -23.3z" fill="#008000"/>

</g>
<rect x="251.7" y="31.8" width="2082.6" height="1532.6" fill="none" stroke="#000" stroke-width="6.2"/>
<text transform="translate(216.5 1584.5) scale(1 1.07)" text-anchor="end" font-family="'Liberation Serif','Times New Roman',serif" font-size="68" fill="#000">2.0</text>
<text transform="translate(216.5 1423.1) scale(1 1.07)" text-anchor="end" font-family="'Liberation Serif','Times New Roman',serif" font-size="68" fill="#000">2.2</text>
<text transform="translate(216.5 1261.6) scale(1 1.07)" text-anchor="end" font-family="'Liberation Serif','Times New Roman',serif" font-size="68" fill="#000">2.4</text>
<text transform="translate(216.5 1100.2) scale(1 1.07)" text-anchor="end" font-family="'Liberation Serif','Times New Roman',serif" font-size="68" fill="#000">2.6</text>
<text transform="translate(216.5 938.7) scale(1 1.07)" text-anchor="end" font-family="'Liberation Serif','Times New Roman',serif" font-size="68" fill="#000">2.8</text>
<text transform="translate(216.5 777.3) scale(1 1.07)" text-anchor="end" font-family="'Liberation Serif','Times New Roman',serif" font-size="68" fill="#000">3.0</text>
<text transform="translate(216.5 615.9) scale(1 1.07)" text-anchor="end" font-family="'Liberation Serif','Times New Roman',serif" font-size="68" fill="#000">3.2</text>
<text transform="translate(216.5 454.4) scale(1 1.07)" text-anchor="end" font-family="'Liberation Serif','Times New Roman',serif" font-size="68" fill="#000">3.4</text>
<text transform="translate(216.5 293) scale(1 1.07)" text-anchor="end" font-family="'Liberation Serif','Times New Roman',serif" font-size="68" fill="#000">3.6</text>
<text transform="translate(216.5 131.5) scale(1 1.07)" text-anchor="end" font-family="'Liberation Serif','Times New Roman',serif" font-size="68" fill="#000">3.8</text>
<text transform="translate(251 1649.5) scale(1 1.07)" text-anchor="middle" font-family="'Liberation Serif','Times New Roman',serif" font-size="68" fill="#000">0</text>
<text transform="translate(668.6 1649.5) scale(1 1.07)" text-anchor="middle" font-family="'Liberation Serif','Times New Roman',serif" font-size="68" fill="#000">20</text>
<text transform="translate(1085.2 1649.5) scale(1 1.07)" text-anchor="middle" font-family="'Liberation Serif','Times New Roman',serif" font-size="68" fill="#000">40</text>
<text transform="translate(1501.8 1649.5) scale(1 1.07)" text-anchor="middle" font-family="'Liberation Serif','Times New Roman',serif" font-size="68" fill="#000">60</text>
<text transform="translate(1918.4 1649.5) scale(1 1.07)" text-anchor="middle" font-family="'Liberation Serif','Times New Roman',serif" font-size="68" fill="#000">80</text>
<text transform="translate(2335 1649.5) scale(1 1.07)" text-anchor="middle" font-family="'Liberation Serif','Times New Roman',serif" font-size="68" fill="#000">100</text>
<text transform="translate(1293.5 1785) scale(1 1.07)" text-anchor="middle" font-family="'Liberation Serif','Times New Roman',serif" font-size="68" fill="#000">Cycle number</text>
<text transform="translate(81 1297) rotate(-90) scale(1 1.07)" text-anchor="start" font-family="'Liberation Serif','Times New Roman',serif" font-size="68" fill="#000">Mid-point voltage /(V vs. Li/Li<tspan font-size="49" dy="-29.7" dx="-3">+</tspan><tspan dy="29.7" dx="-1">)</tspan></text>
<rect x="448.5" y="895.5" width="663.0" height="525.5" fill="#fff"/>
<rect x="448.5" y="895.5" width="5.5" height="525" fill="#777"/>
<rect x="448.5" y="895.5" width="663" height="6" fill="#8e8e8e"/>
<rect x="1108.6" y="897" width="2.8" height="524" fill="#2a2a2a"/>
<rect x="1111.4" y="899" width="2.4" height="524" fill="#d0d0d0"/>
<rect x="448.5" y="1415" width="663" height="3" fill="#aaa"/>
<rect x="448.5" y="1418" width="663" height="3" fill="#4a4a4a"/>
<rect x="450" y="1421" width="663.5" height="2" fill="#d0d0d0"/>
<path d="M496.5 964.5H682" stroke="#000000" stroke-width="3.6" stroke-opacity="0.5" fill="none"/>
<path d="M572.7 948h33v33h-33z" fill="#000000"/>
<text transform="translate(698 993.8) scale(1 1.07)" text-anchor="start" font-family="'Liberation Serif','Times New Roman',serif" font-size="68" fill="#000">LMNCO</text>
<path d="M496.5 1066.3H682" stroke="#ff0000" stroke-width="3.6" stroke-opacity="0.5" fill="none"/>
<path d="M570.2 1066.3a19 19 0 1 0 38 0a19 19 0 1 0 -38 0z" fill="#ff0000"/>
<text transform="translate(703.5 1094.2) scale(1 1.07)" text-anchor="start" font-family="'Liberation Serif','Times New Roman',serif" font-size="68" fill="#000">nLMNCO-1.0</text>
<path d="M496.5 1167.5H682" stroke="#0000ff" stroke-width="3.6" stroke-opacity="0.5" fill="none"/>
<path d="M589.2 1142.8l23.3 40h-46.6z" fill="#0000ff"/>
<text transform="translate(703.5 1195.8) scale(1 1.07)" text-anchor="start" font-family="'Liberation Serif','Times New Roman',serif" font-size="68" fill="#000">nLMNCO-2.0</text>
<path d="M496.5 1270H682" stroke="#ff00ff" stroke-width="3.6" stroke-opacity="0.5" fill="none"/>
<path d="M589.2 1294.7l23.3 -40h-46.6z" fill="#ff00ff"/>
<text transform="translate(703.5 1297.3) scale(1 1.07)" text-anchor="start" font-family="'Liberation Serif','Times New Roman',serif" font-size="68" fill="#000">nLMNCO-3.0</text>
<path d="M496.5 1371.7H682" stroke="#008000" stroke-width="3.6" stroke-opacity="0.5" fill="none"/>
<path d="M589.2 1348.4l23.3 23.3l-23.3 23.3l-23.3 -23.3z" fill="#008000"/>
<text transform="translate(703.5 1399.5) scale(1 1.07)" text-anchor="start" font-family="'Liberation Serif','Times New Roman',serif" font-size="68" fill="#000">nLMNCO-4.0</text>
</svg>
</body></html>
